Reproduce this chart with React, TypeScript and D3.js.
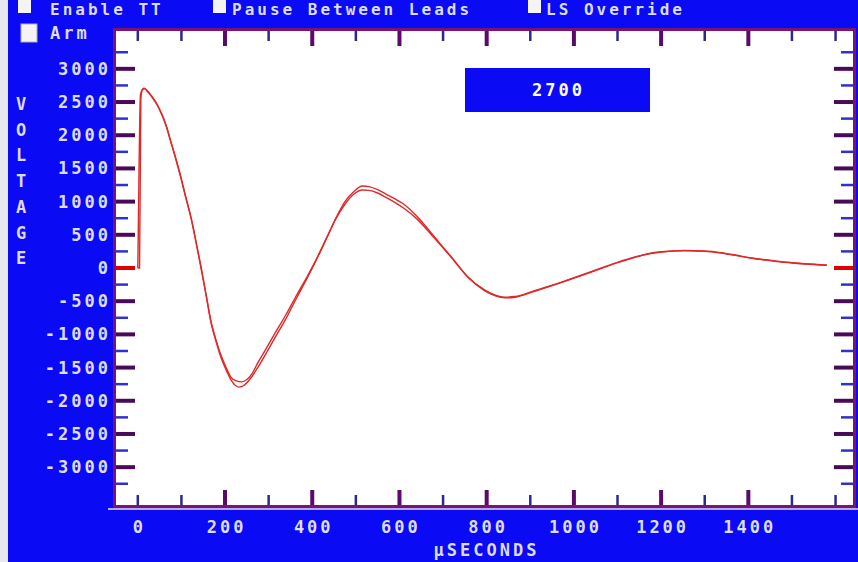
import React from "react";
import * as d3 from "d3";

// ---- data ----
const TIMES_A = [0, 4, 7, 10, 14, 22, 32, 43, 53, 65, 76, 88, 99, 110, 122, 134, 145, 157, 168, 180, 190, 202, 214, 224, 232, 245, 260, 275, 293, 312, 340, 365, 390, 413, 435, 455, 475, 495, 515, 530, 550, 570, 590, 610, 640, 680, 720, 757, 795, 820, 841, 865, 910, 950, 986, 1025, 1063, 1100, 1140, 1170, 1201, 1254, 1300, 1332, 1370, 1408, 1445, 1483, 1530, 1580];
const VOLTS_A = [0, 0, 2550, 2680, 2710, 2670, 2590, 2480, 2350, 2150, 1900, 1630, 1365, 1070, 765, 380, 15, -420, -825, -1120, -1335, -1530, -1690, -1770, -1795, -1760, -1650, -1500, -1300, -1080, -760, -440, -130, 170, 480, 760, 1000, 1150, 1235, 1225, 1180, 1110, 1040, 960, 780, 470, 160, -135, -330, -410, -440, -430, -340, -260, -180, -90, 0, 85, 165, 210, 240, 265, 255, 235, 195, 150, 120, 90, 65, 45];

const TIMES_B = [0, 1, 6, 11, 16, 22, 32, 43, 53, 65, 76, 88, 99, 110, 122, 134, 145, 157, 168, 180, 190, 202, 214, 226, 238, 250, 262, 275, 293, 312, 340, 365, 390, 413, 435, 455, 475, 495, 515, 530, 550, 570, 590, 610, 640, 680, 720, 757, 795, 820, 841, 865, 910, 950, 986, 1025, 1063, 1100, 1140, 1170, 1201, 1254, 1300, 1332, 1370, 1408, 1445, 1483, 1530, 1580];
const VOLTS_B = [0, 500, 2600, 2690, 2700, 2660, 2580, 2470, 2340, 2140, 1890, 1620, 1350, 1060, 750, 370, 0, -420, -810, -1100, -1300, -1490, -1650, -1700, -1715, -1680, -1590, -1430, -1230, -1010, -700, -400, -110, 180, 480, 750, 960, 1110, 1175, 1170, 1130, 1060, 985, 900, 740, 450, 150, -140, -340, -420, -450, -440, -350, -265, -185, -95, -5, 80, 160, 215, 245, 260, 250, 230, 190, 145, 115, 85, 60, 40];

const Y_TICKS = d3.range(-3250, 3251, 250);
const Y_LABELS = d3.range(-3000, 3001, 500);
const X_TICKS = d3.range(0, 1601, 100);
const X_LABELS = [0, 200, 400, 600, 800, 1000, 1200, 1400];
const Y_TITLE = ["V", "O", "L", "T", "A", "G", "E"];
const X_TITLE = "µSECONDS";
const VALUE_READOUT = "2700";
const TOP_ROW = [
  { label: "Enable TT", box: 18, text: 50 },
  { label: "Pause Between Leads", box: 213, text: 232 },
  { label: "LS Override", box: 528, text: 546 },
];

const W = 858;
const H = 562;
const BLUE = "#0a0af5";
const TXT = "#dcdcff";
const FONT = "'DejaVu Sans Mono', monospace";
const LS = 3;

export default function App() {
  const left = 116, right = 853, top = 31, bottom = 505;
  const x = d3.scaleLinear().domain([-50, 1640]).range([left, right]);
  const y = d3.scaleLinear().domain([-3570, 3570]).range([bottom, top]);

  const line = d3
    .line<[number, number]>()
    .x((d) => x(d[0]))
    .y((d) => y(d[1]))
    .curve(d3.curveMonotoneX);

  const dataA: [number, number][] = TIMES_A.map((t, i) => [t, VOLTS_A[i]]);
  const dataB: [number, number][] = TIMES_B.map((t, i) => [t, VOLTS_B[i]]);

  const textStyle = {
    fontFamily: FONT,
    fontWeight: 700 as const,
    fontSize: 17,
    letterSpacing: LS,
    fill: TXT,
  };

  return (
    <svg
      width={W}
      height={H}
      style={{ position: "absolute", left: 0, top: 0, display: "block" }}
    >
      <rect x={0} y={0} width={W} height={H} fill="#e8e8f0" />
      <rect x={8} y={0} width={W - 8} height={H} fill={BLUE} />

      {/* top control row */}
      {TOP_ROW.map((c) => (
        <g key={c.label}>
          <rect x={c.box} y={-3} width={13} height={16} fill="#f4f4f4" />
          <text x={c.text} y={15} {...textStyle} fontSize={16}>
            {c.label}
          </text>
        </g>
      ))}
      <rect x={21} y={24} width={16} height={18} fill="#f4f4f4" stroke="#b0b0b0" strokeWidth={1} />
      <text x={50} y={39} {...textStyle}>
        Arm
      </text>

      {/* plot area */}
      <rect x={left} y={top} width={right - left} height={bottom - top} fill="#ffffff" />
      <line x1={108} x2={W} y1={bottom + 4} y2={bottom + 4} stroke="#b8a8f0" strokeWidth={2} />
      <rect
        x={left - 1.5}
        y={top - 1.5}
        width={right - left + 3}
        height={bottom - top + 3}
        fill="none"
        stroke="#7a1470"
        strokeWidth={3}
      />

      {/* y ticks left & right */}
      {Y_TICKS.map((v) => {
        const major = v % 500 === 0;
        const zero = v === 0;
        const col = zero ? "#e00000" : major ? "#4a0a5a" : "#3030d0";
        const len = major ? 19 : 12;
        const sw = major ? 4 : 2.5;
        return (
          <g key={"y" + v}>
            <line x1={left} x2={left + len} y1={y(v)} y2={y(v)} stroke={col} strokeWidth={sw} />
            <line x1={right} x2={right - len} y1={y(v)} y2={y(v)} stroke={col} strokeWidth={sw} />
          </g>
        );
      })}

      {/* x ticks top & bottom */}
      {X_TICKS.map((v) => {
        const major = v % 200 === 0 && v >= 200 && v <= 1400;
        const col = major ? "#5a0a6a" : "#2a2a8a";
        const len = major ? 15 : 10;
        const sw = major ? 4 : 2.5;
        return (
          <g key={"x" + v}>
            <line x1={x(v)} x2={x(v)} y1={top} y2={top + len} stroke={col} strokeWidth={sw} />
            <line x1={x(v)} x2={x(v)} y1={bottom} y2={bottom - len} stroke={col} strokeWidth={sw} />
          </g>
        );
      })}

      {/* traces */}
      <path d={line(dataA) || ""} fill="none" stroke="#e02828" strokeWidth={1.4} />
      <path d={line(dataB) || ""} fill="none" stroke="#e02828" strokeWidth={1.4} />

      {/* readout box */}
      <rect x={465} y={68} width={185} height={44} fill={BLUE} />
      <text x={557 + LS / 2} y={96} textAnchor="middle" {...textStyle} fill="#ffffff">
        {VALUE_READOUT}
      </text>

      {/* y labels */}
      {Y_LABELS.map((v) => (
        <text key={"yl" + v} x={108 + LS} y={y(v) + 6} textAnchor="end" {...textStyle}>
          {v}
        </text>
      ))}

      {/* x labels */}
      {X_LABELS.map((v) => (
        <text key={"xl" + v} x={x(v) + LS / 2} y={533} textAnchor="middle" {...textStyle}>
          {v}
        </text>
      ))}

      <text x={485 + LS / 2} y={556} textAnchor="middle" {...textStyle}>
        {X_TITLE}
      </text>

      {Y_TITLE.map((c, i) => (
        <text key={"t" + i} x={21} y={110 + i * 25.7} textAnchor="middle" {...textStyle} letterSpacing={0}>
          {c}
        </text>
      ))}
    </svg>
  );
}
